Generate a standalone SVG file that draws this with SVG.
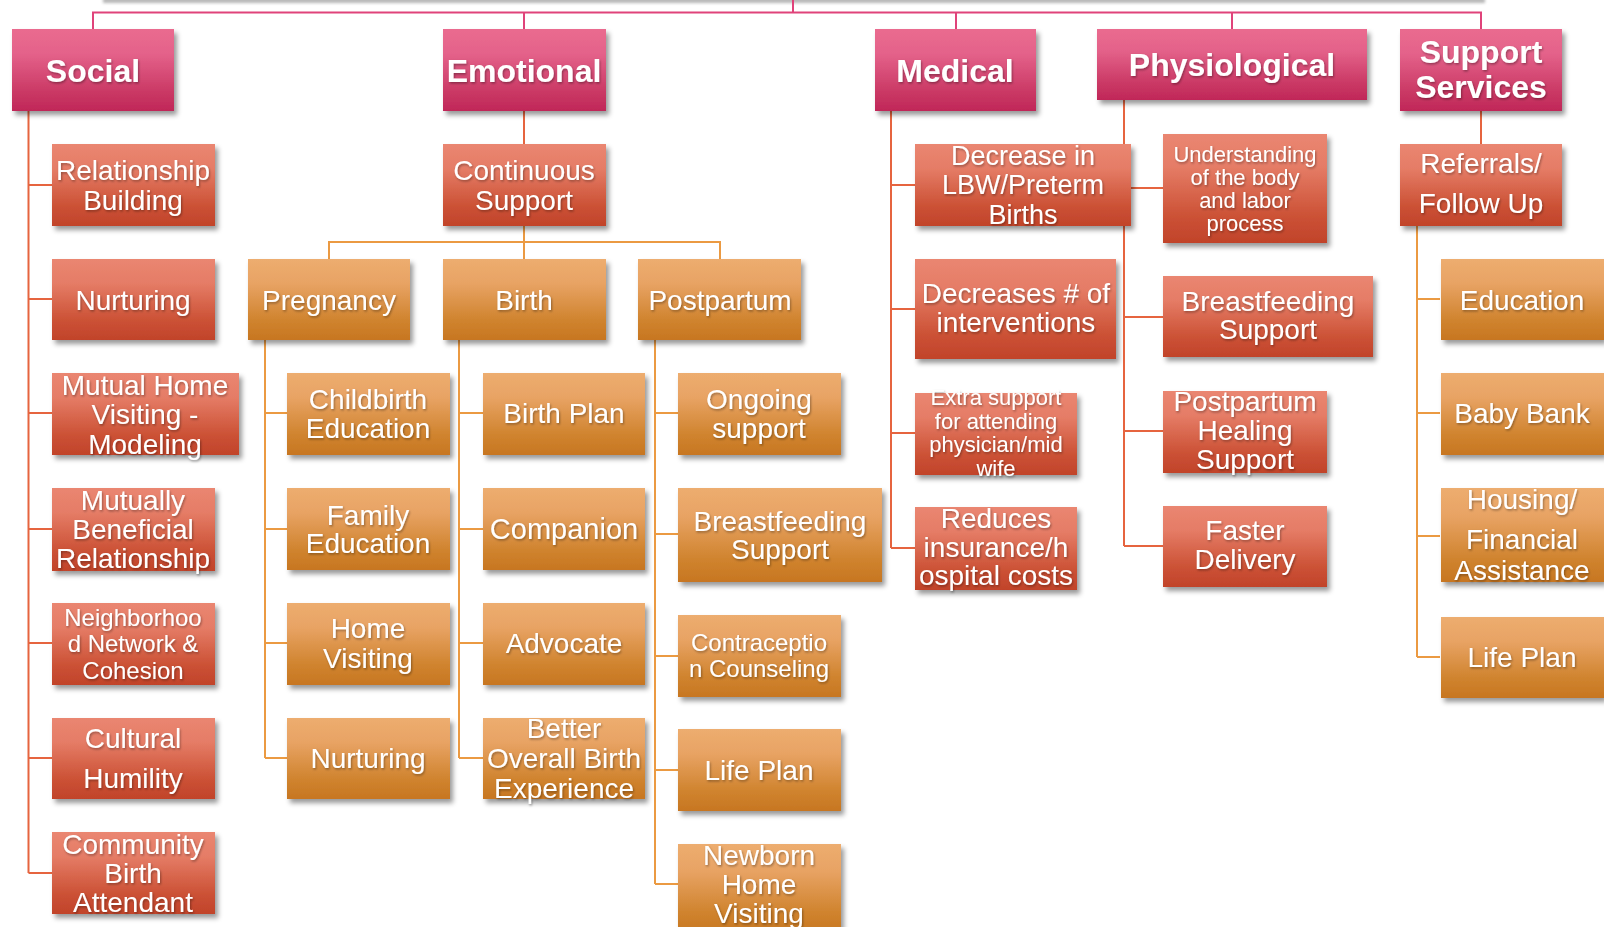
<svg xmlns="http://www.w3.org/2000/svg" width="1604" height="927" viewBox="0 0 1604 927">
<defs>
<linearGradient id="gHdr" x1="0" y1="0" x2="0" y2="1">
<stop offset="0" stop-color="#ea6b8f"/><stop offset="0.3" stop-color="#e4628a"/><stop offset="0.75" stop-color="#cb3a66"/><stop offset="1" stop-color="#c02758"/>
</linearGradient>
<linearGradient id="gRed" x1="0" y1="0" x2="0" y2="1">
<stop offset="0" stop-color="#ea8671"/><stop offset="0.3" stop-color="#e57c66"/><stop offset="0.75" stop-color="#cc5236"/><stop offset="1" stop-color="#c1432a"/>
</linearGradient>
<linearGradient id="gOrg" x1="0" y1="0" x2="0" y2="1">
<stop offset="0" stop-color="#edad6f"/><stop offset="0.3" stop-color="#e8a364"/><stop offset="0.75" stop-color="#d0842f"/><stop offset="1" stop-color="#c77621"/>
</linearGradient>
<filter id="sh" x="-10%" y="-10%" width="125%" height="135%">
<feDropShadow dx="3" dy="4" stdDeviation="2.5" flood-color="#000" flood-opacity="0.4"/>
</filter>
<filter id="tsh" x="-10%" y="-20%" width="120%" height="150%">
<feDropShadow dx="1" dy="1.5" stdDeviation="1" flood-color="#000" flood-opacity="0.35"/>
</filter>
<filter id="blur" x="-5%" y="-200%" width="110%" height="500%">
<feGaussianBlur stdDeviation="1.5"/>
</filter>
</defs>
<style>
.hdr{fill:url(#gHdr);filter:url(#sh)}
.red{fill:url(#gRed);filter:url(#sh)}
.org{fill:url(#gOrg);filter:url(#sh)}
text{font-family:"Liberation Sans",Arial,sans-serif;fill:#fff;text-anchor:middle;filter:url(#tsh)}
.h{font-size:32px;font-weight:bold}
.t{font-size:28px}
.s24{font-size:24px}
.pk{fill:none;stroke:#e0437a;stroke-width:2}
.rc{fill:none;stroke:#e6643f;stroke-width:2}
.oc{fill:none;stroke:#eb9a42;stroke-width:2}
</style>
<rect width="1604" height="927" fill="#fff"/>

<g id="top-node"><rect x="103" y="-2" width="1382" height="5" fill="#7a7a7a" opacity="0.55" filter="url(#blur)"/><rect x="100" y="-60" width="1383" height="60" fill="#c02758"/></g>

<g id="connectors">
<path class="pk" d="M793 0V12.5M93 29V12.5H1481V29M524 12.5V29M956 12.5V29M1232 12.5V29"/>
<path class="rc" d="M28.5 111V873M28.5 185H52M28.5 299H52M28.5 413H52M28.5 529H52M28.5 643H52M28.5 758H52M28.5 873H52"/>
<path class="rc" d="M524 111V144"/>
<path class="oc" d="M524 226V259M329 259V242H720V259"/>
<path class="oc" d="M265 340V758M265 413H287M265 529H287M265 643H287M265 758H287"/>
<path class="oc" d="M459 340V758M459 413H483M459 529H483M459 643H483M459 758H483"/>
<path class="oc" d="M655 340V884M655 413H678M655 534H678M655 656H678M655 770H678M655 884H678"/>
<path class="rc" d="M891 111V548M891 185H915M891 309H915M891 433H915M891 548H915"/>
<path class="rc" d="M1124 100V546M1124 188H1163M1124 317H1163M1124 431H1163M1124 546H1163"/>
<path class="rc" d="M1481 111V144"/>
<path class="oc" d="M1417 226V657M1417 299H1440M1417 413H1440M1417 536H1440M1417 657H1440"/>
</g>

<g id="n-social"><rect class="hdr" x="12" y="29" width="162" height="82"/><text class="h" x="93" y="82">Social</text></g>
<g id="n-emotional"><rect class="hdr" x="443" y="29" width="163" height="82"/><text class="h" x="524" y="82">Emotional</text></g>
<g id="n-medical"><rect class="hdr" x="875" y="29" width="161" height="82"/><text class="h" x="955" y="82">Medical</text></g>
<g id="n-physiological"><rect class="hdr" x="1097" y="29" width="270" height="71"/><text class="h" x="1232" y="76">Physiological</text></g>
<g id="n-support"><rect class="hdr" x="1400" y="29" width="162" height="82"/><text class="h" x="1481" y="63">Support</text><text class="h" x="1481" y="98">Services</text></g>

<g id="n-relationship"><rect class="red" x="52" y="144" width="163" height="82"/><text class="t" x="133" y="180">Relationship</text><text class="t" x="133" y="210">Building</text></g>
<g id="n-nurturing-s"><rect class="red" x="52" y="259" width="163" height="81"/><text class="t" x="133" y="310">Nurturing</text></g>
<g id="n-mutual-home"><rect class="red" x="52" y="373" width="187" height="82"/><text class="t" x="145" y="395">Mutual Home</text><text class="t" x="145" y="424">Visiting -</text><text class="t" x="145" y="454">Modeling</text></g>
<g id="n-mutually"><rect class="red" x="52" y="488" width="163" height="83"/><text class="t" x="133" y="510">Mutually</text><text class="t" x="133" y="539">Beneficial</text><text class="t" x="133" y="568">Relationship</text></g>
<g id="n-neighborhood"><rect class="red" x="52" y="603" width="163" height="82"/><text class="s24" x="133" y="626">Neighborhoo</text><text class="s24" x="133" y="652">d Network &amp;</text><text class="s24" x="133" y="679">Cohesion</text></g>
<g id="n-cultural"><rect class="red" x="52" y="718" width="163" height="81"/><text class="t" x="133" y="748">Cultural</text><text class="t" x="133" y="788">Humility</text></g>
<g id="n-cba"><rect class="red" x="52" y="832" width="163" height="82"/><text class="t" x="133" y="854">Community</text><text class="t" x="133" y="883">Birth</text><text class="t" x="133" y="912">Attendant</text></g>

<g id="n-continuous"><rect class="red" x="443" y="144" width="163" height="82"/><text class="t" x="524" y="180">Continuous</text><text class="t" x="524" y="210">Support</text></g>
<g id="n-pregnancy"><rect class="org" x="248" y="259" width="162" height="81"/><text class="t" x="329" y="310">Pregnancy</text></g>
<g id="n-birth"><rect class="org" x="443" y="259" width="163" height="81"/><text class="t" x="524" y="310">Birth</text></g>
<g id="n-postpartum"><rect class="org" x="638" y="259" width="163" height="81"/><text class="t" x="720" y="310">Postpartum</text></g>

<g id="n-childbirth"><rect class="org" x="287" y="373" width="163" height="82"/><text class="t" x="368" y="409">Childbirth</text><text class="t" x="368" y="438">Education</text></g>
<g id="n-family"><rect class="org" x="287" y="488" width="163" height="82"/><text class="t" x="368" y="525">Family</text><text class="t" x="368" y="553">Education</text></g>
<g id="n-home-visiting"><rect class="org" x="287" y="603" width="163" height="82"/><text class="t" x="368" y="638">Home</text><text class="t" x="368" y="668">Visiting</text></g>
<g id="n-nurturing-p"><rect class="org" x="287" y="718" width="163" height="81"/><text class="t" x="368" y="768">Nurturing</text></g>

<g id="n-birth-plan"><rect class="org" x="483" y="373" width="162" height="82"/><text class="t" x="564" y="423">Birth Plan</text></g>
<g id="n-companion"><rect class="org" x="483" y="488" width="162" height="82"/><text class="t" style="font-size:29px" x="564" y="539">Companion</text></g>
<g id="n-advocate"><rect class="org" x="483" y="603" width="162" height="82"/><text class="t" x="564" y="653">Advocate</text></g>
<g id="n-better"><rect class="org" x="483" y="718" width="162" height="81"/><text class="t" x="564" y="738">Better</text><text class="t" x="564" y="768">Overall Birth</text><text class="t" x="564" y="798">Experience</text></g>

<g id="n-ongoing"><rect class="org" x="678" y="373" width="163" height="82"/><text class="t" x="759" y="409">Ongoing</text><text class="t" x="759" y="438">support</text></g>
<g id="n-breastfeeding-e"><rect class="org" x="678" y="488" width="204" height="94"/><text class="t" x="780" y="531">Breastfeeding</text><text class="t" x="780" y="559">Support</text></g>
<g id="n-contraception"><rect class="org" x="678" y="615" width="163" height="82"/><text class="s24" x="759" y="651">Contraceptio</text><text class="s24" x="759" y="677">n Counseling</text></g>
<g id="n-lifeplan-e"><rect class="org" x="678" y="729" width="163" height="82"/><text class="t" x="759" y="780">Life Plan</text></g>
<g id="n-newborn"><rect class="org" x="678" y="844" width="163" height="90"/><text class="t" x="759" y="865">Newborn</text><text class="t" x="759" y="894">Home</text><text class="t" x="759" y="923">Visiting</text></g>

<g id="n-decrease-lbw"><rect class="red" x="915" y="144" width="216" height="82"/><text style="font-size:27px" x="1023" y="165">Decrease in</text><text style="font-size:27px" x="1023" y="194">LBW/Preterm</text><text style="font-size:27px" x="1023" y="224">Births</text></g>
<g id="n-decreases"><rect class="red" x="915" y="259" width="201" height="100"/><text class="t" x="1016" y="303">Decreases # of</text><text class="t" x="1016" y="332">interventions</text></g>
<g id="n-extra"><rect class="red" x="915" y="393" width="162" height="82"/><text style="font-size:22px" x="996" y="405">Extra support</text><text style="font-size:22px" x="996" y="429">for attending</text><text style="font-size:22px" x="996" y="452">physician/mid</text><text style="font-size:22px" x="996" y="476">wife</text></g>
<g id="n-reduces"><rect class="red" x="915" y="507" width="162" height="83"/><text class="t" x="996" y="528">Reduces</text><text class="t" x="996" y="557">insurance/h</text><text class="t" x="996" y="585">ospital costs</text></g>

<g id="n-understanding"><rect class="red" x="1163" y="134" width="164" height="109"/><text style="font-size:22px" x="1245" y="162">Understanding</text><text style="font-size:22px" x="1245" y="185">of the body</text><text style="font-size:22px" x="1245" y="208">and labor</text><text style="font-size:22px" x="1245" y="231">process</text></g>
<g id="n-breastfeeding-p"><rect class="red" x="1163" y="276" width="210" height="81"/><text class="t" x="1268" y="311">Breastfeeding</text><text class="t" x="1268" y="339">Support</text></g>
<g id="n-healing"><rect class="red" x="1163" y="391" width="164" height="82"/><text class="t" x="1245" y="411">Postpartum</text><text class="t" x="1245" y="440">Healing</text><text class="t" x="1245" y="469">Support</text></g>
<g id="n-faster"><rect class="red" x="1163" y="506" width="164" height="81"/><text class="t" x="1245" y="540">Faster</text><text class="t" x="1245" y="569">Delivery</text></g>

<g id="n-referrals"><rect class="red" x="1400" y="144" width="162" height="82"/><text class="t" x="1481" y="173">Referrals/</text><text class="t" x="1481" y="213">Follow Up</text></g>
<g id="n-education"><rect class="org" x="1441" y="259" width="163" height="81"/><text class="t" x="1522" y="310">Education</text></g>
<g id="n-babybank"><rect class="org" x="1441" y="373" width="163" height="82"/><text class="t" x="1522" y="423">Baby Bank</text></g>
<g id="n-housing"><rect class="org" x="1441" y="488" width="163" height="94"/><text class="t" x="1522" y="509">Housing/</text><text class="t" x="1522" y="549">Financial</text><text class="t" x="1522" y="580">Assistance</text></g>
<g id="n-lifeplan-s"><rect class="org" x="1441" y="617" width="163" height="81"/><text class="t" x="1522" y="667">Life Plan</text></g>
</svg>
